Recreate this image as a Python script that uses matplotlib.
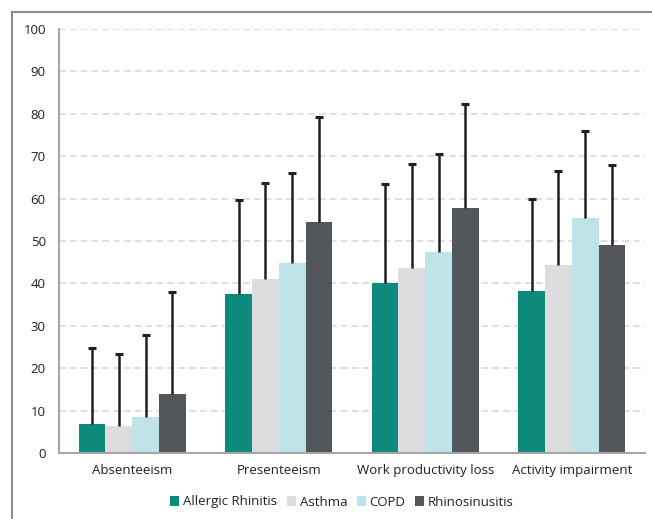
import matplotlib
matplotlib.use("Agg")
import matplotlib.pyplot as plt
import numpy as np
from matplotlib.lines import Line2D
from matplotlib.patches import Patch

plt.rcParams['font.family'] = ['Open Sans', 'DejaVu Sans']

categories = ["Absenteeism", "Presenteeism", "Work productivity loss", "Activity impairment"]
series = ["Allergic Rhinitis", "Asthma", "COPD", "Rhinosinusitis"]
allergic = [6.8, 37.5, 40.0, 38.2]
asthma = [6.4, 41.0, 43.6, 44.3]
copd = [8.5, 44.8, 47.4, 55.4]
rhino = [13.9, 54.4, 57.8, 49.1]
allergic_top = [24.7, 59.7, 63.5, 60.0]
asthma_top = [23.3, 63.7, 68.2, 66.6]
copd_top = [27.9, 66.0, 70.6, 76.0]
rhino_top = [37.9, 79.3, 82.3, 67.9]
yticks = [0, 10, 20, 30, 40, 50, 60, 70, 80, 90, 100]

colors = ["#0E8A7D", "#DCDDDF", "#BEE3E8", "#53565A"]
values = [allergic, asthma, copd, rhino]
tops = [allergic_top, asthma_top, copd_top, rhino_top]

fig = plt.figure(figsize=(6.52, 5.19), dpi=100)
# outer frame (left and top only)
fig.add_artist(Line2D([12/652, 12/652], [0, 1 - 12/519], color="#8C8C8C", lw=1.5, transform=fig.transFigure))
fig.add_artist(Line2D([12/652, 1], [1 - 12/519, 1 - 12/519], color="#8C8C8C", lw=1.5, transform=fig.transFigure))

ax = fig.add_axes([59/652, 1 - 453/519, (645 - 59)/652, (453 - 29)/519])
x = np.arange(len(categories))
bw = 0.183
for i, (vals, tp, c) in enumerate(zip(values, tops, colors)):
    pos = x + (i - 1.5) * bw
    ax.bar(pos, vals, width=bw, color=c, zorder=3, label=series[i])
    ax.vlines(pos, vals, tp, color="#231F20", lw=1.8, zorder=4)
    ax.plot(pos, tp, linestyle="none", marker="_", markersize=5.5,
            markeredgewidth=2.2, color="#231F20", zorder=4)

ax.set_xlim(-0.5, 3.5)
ax.set_ylim(0, 100)
ax.set_yticks(yticks)
ax.set_xticks(x)
ax.set_xticklabels(categories, fontsize=9.5, color="#231F20")
ax.tick_params(axis="y", length=0, pad=9.5, labelsize=9.5, labelcolor="#231F20")
ax.tick_params(axis="x", length=0, pad=8)
ax.yaxis.grid(True, color="#D9D9D9", linestyle=(0, (4, 2.5)), lw=1.2, zorder=0)
ax.set_axisbelow(True)
for s in ["top", "right"]:
    ax.spines[s].set_visible(False)
ax.spines["left"].set_color("#A6A6A6")
ax.spines["bottom"].set_color("#A6A6A6")
ax.spines["left"].set_linewidth(1.5)
ax.spines["bottom"].set_linewidth(1.5)
ax.spines["left"].set_zorder(5)
ax.spines["bottom"].set_zorder(5)

handles = [Patch(facecolor=c, edgecolor="none") for c in colors]
fig.legend(handles, series, loc="center", bbox_to_anchor=(342/652, 1 - 502/519), ncol=4,
           frameon=False, fontsize=9.5, handlelength=0.7, handleheight=0.7,
           handletextpad=0.3, columnspacing=0.7, labelcolor="#231F20")

fig.savefig("out.png", dpi=100)
